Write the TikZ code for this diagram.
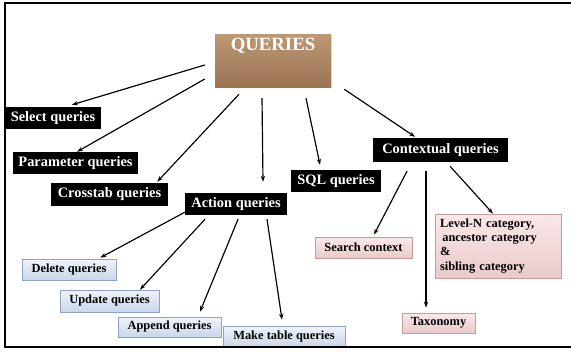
\documentclass[tikz,border=0pt]{standalone}
\usepackage{fontspec}
\setmainfont{Liberation Serif}
\usetikzlibrary{arrows.meta,shadows}

\definecolor{brownA}{HTML}{BC9873}
\definecolor{brownB}{HTML}{9B7453}
\definecolor{blueline}{HTML}{8FA3C2}
\definecolor{blueA}{HTML}{F0F4FA}
\definecolor{blueB}{HTML}{C8D6EA}
\definecolor{pinkline}{HTML}{C49A9A}
\definecolor{pinkA}{HTML}{F9E8E8}
\definecolor{pinkB}{HTML}{EACACA}

\tikzset{
  >={Stealth[length=5pt,width=3.6pt]},
  sz/.style 2 args={minimum width=#1*0.03cm, minimum height=#2*0.03cm, inner sep=0pt},
  topbox/.style={top color=brownA, bottom color=brownB, text=white,
    font=\bfseries\fontsize{16}{18}\selectfont, text height=0.5cm, text depth=1.09cm,
    drop shadow={shadow xshift=1pt, shadow yshift=-1pt, opacity=0.25}},
  darkbox/.style={fill=black, text=white, font=\bfseries\fontsize{12.3}{14}\selectfont},
  bluebox/.style={draw=blueline, line width=0.6pt, top color=blueA, bottom color=blueB,
    font=\bfseries\fontsize{10.6}{12}\selectfont,
    drop shadow={shadow xshift=1pt, shadow yshift=-1pt, opacity=0.25}},
  pinkbox/.style={draw=pinkline, line width=0.6pt, top color=pinkA, bottom color=pinkB,
    font=\bfseries\fontsize{10.6}{12}\selectfont,
    drop shadow={shadow xshift=1pt, shadow yshift=-1pt, opacity=0.25}},
  link/.style={->, line width=1pt},
}

\begin{document}
\begin{tikzpicture}[x=0.03cm,y=-0.03cm]
\useasboundingbox (0,0) rectangle (571,351);

\draw (273,60.5) node[topbox,sz={116}{53}] (Q) {QUERIES};

\draw (53,118) node[darkbox,sz={96}{22}] (S1) {Select queries}
  (75.5,163) node[darkbox,sz={125}{22}] (P1) {Parameter queries}
  (109.5,194.5) node[darkbox,sz={117}{23}] (C1) {Crosstab queries}
  (236,204) node[darkbox,sz={102}{22}] (A1) {Action queries}
  (336,181) node[darkbox,sz={90}{22}] (SQ1) {SQL queries}
  (440.5,150) node[darkbox,sz={135}{24}] (K1) {Contextual queries};

\draw (69,269.5) node[bluebox,sz={94}{21}] (D2) {Delete queries}
  (109.5,301) node[bluebox,sz={99}{22}] (U2) {Update queries}
  (169.5,327) node[bluebox,sz={103}{20}] (AP2) {Append queries}
  (284,336.5) node[bluebox,sz={122}{21}] (M2) {Make table queries};

\draw (363.5,247.5) node[pinkbox,sz={97}{21}] (SC2) {Search context}
  (498,246) node[pinkbox,sz={126}{64},text width=116*0.03cm,align=left] (L2)
    {Level-N category,\\\hspace{2pt}ancestor category\\\&\\sibling category}
  (438.5,323) node[pinkbox,sz={73}{20}] (T2) {Taxonomy};

\draw[link] ([shift={(-10,4.5)}]Q.west) -- ([shift={(19,-2)}]S1.north);
\draw[link] ([shift={(-10,18.5)}]Q.west) -- ([shift={(1.5,0)}]P1.north);
\draw[link] ([shift={(-34,7)}]Q.south) -- ([shift={(-11,-1)}]C1.north east);
\draw[link] ([shift={(-11,11)}]Q.south) -- ([shift={(27,-11)}]A1.north);
\draw[link] ([shift={(33,11)}]Q.south) -- ([shift={(-16,-5)}]SQ1.north);
\draw[link] ([shift={(13,2)}]Q.south east) -- ([shift={(-25.5,-1)}]K1.north);

\draw[link] ([shift={(0,-3)}]A1.south west) -- ([shift={(-16,-1)}]D2.north east);
\draw[link] ([shift={(-31,4)}]A1.south) -- ([shift={(30.5,0)}]U2.north);
\draw[link] ([shift={(2,4)}]A1.south) -- ([shift={(30.5,-5)}]AP2.north);
\draw[link] ([shift={(31,4)}]A1.south) -- ([shift={(-2,-6)}]M2.north);

\draw[link] ([shift={(-33.5,9)}]K1.south) -- ([shift={(10.5,-2)}]SC2.north);
\draw[link] ([shift={(-14.5,9)}]K1.south) -- ([shift={(-12.5,-5)}]T2.north);
\draw[link] ([shift={(9.5,4)}]K1.south) -- ([shift={(-5,0)}]L2.north);

\draw[line width=1.2pt] (571,3) -- (5,3) -- (5,347) -- (571,347);
\end{tikzpicture}
\end{document}
